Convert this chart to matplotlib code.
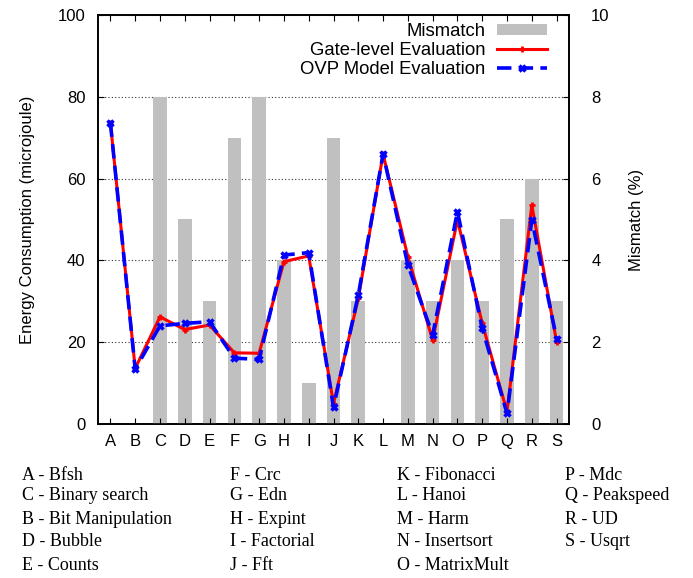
import numpy as np
import matplotlib
matplotlib.use('Agg')
import matplotlib.pyplot as plt
from matplotlib.patches import Patch
from matplotlib.lines import Line2D

plt.rcParams['font.family'] = ['Liberation Sans', 'DejaVu Sans']
plt.rcParams['font.size'] = 12

labels = ['A', 'B', 'C', 'D', 'E', 'F', 'G', 'H', 'I', 'J',
          'K', 'L', 'M', 'N', 'O', 'P', 'Q', 'R', 'S']
mismatch = [0, 0, 8, 5, 3, 7, 8, 4, 1, 7, 3, 0, 4, 3, 4, 3, 5, 6, 3]
gate = [73.7, 13.6, 26.2, 23.1, 24.2, 17.4, 17.3, 39.7, 41.1, 5.0,
        30.7, 66.0, 40.9, 20.5, 49.9, 24.6, 3.0, 53.5, 20.1]
ovp = [73.7, 13.4, 24.0, 24.6, 25.0, 16.1, 15.8, 41.3, 41.9, 4.1,
       31.5, 66.0, 38.9, 21.8, 51.9, 23.4, 2.6, 49.9, 20.9]

names = [['A - Bfsh', 'C - Binary search', 'B - Bit Manipulation', 'D - Bubble', 'E - Counts'],
         ['F - Crc', 'G - Edn', 'H - Expint', 'I - Factorial', 'J - Fft'],
         ['K - Fibonacci', 'L - Hanoi', 'M - Harm', 'N - Insertsort', 'O - MatrixMult'],
         ['P - Mdc', 'Q - Peakspeed', 'R - UD', 'S - Usqrt']]

x = np.arange(len(labels))

fig = plt.figure(figsize=(6.93, 5.78), dpi=100)
ax = fig.add_axes([98/693, 1 - 424/578, 471/693, 409/578])
ax2 = ax.twinx()

# bars on the right axis, behind the lines
ax2.bar(x, mismatch, width=0.55, color='#c0c0c0', zorder=3)
ax2.set_ylim(0, 10)
ax2.set_yticks([0, 2, 4, 6, 8, 10])
ax2.yaxis.grid(True, linestyle=(0, (1, 2)), color='#333333', linewidth=0.8, zorder=0)
ax2.set_axisbelow(True)
ax2.set_ylabel('Mismatch (%)', labelpad=14)

ax.set_zorder(ax2.get_zorder() + 1)
ax.patch.set_visible(False)
ax.plot(x, gate, color='red', linewidth=2.2, marker='+', markersize=5, markeredgewidth=2, zorder=4)
ax.plot(x, ovp, color='blue', linewidth=2.6, linestyle=(0, (4, 2)), marker='x', markersize=5,
        markeredgewidth=2.5, zorder=5)
ax.set_xlim(-0.5, len(labels) - 0.5)
ax.set_ylim(0, 100)
ax.set_yticks([0, 20, 40, 60, 80, 100])
ax.set_xticks(x)
ax.set_xticklabels(labels)
ax.set_ylabel('Energy Consumption (microjoule)', labelpad=16.5)

ax.tick_params(axis='both', direction='in', length=4, width=0.8, top=True)
ax.tick_params(axis='y', pad=9)
ax.tick_params(axis='x', pad=7)
ax2.tick_params(axis='y', direction='in', length=4, width=0.8, pad=16)
for a in (ax, ax2):
    for s in a.spines.values():
        s.set_linewidth(1.2)

handles = [Patch(facecolor='#c0c0c0', edgecolor='none'),
           Line2D([], [], color='red', linewidth=2.2, marker='+', markersize=5, markeredgewidth=2),
           Line2D([], [], color='blue', linewidth=2.6, linestyle=(0, (4, 2)), marker='x',
                  markersize=5, markeredgewidth=2.5)]
leg = ax.legend(handles, ['Mismatch', 'Gate-level Evaluation', 'OVP Model Evaluation'],
                loc='upper right', bbox_to_anchor=(1 - 22/471, 1 - 8/409), borderaxespad=0,
                frameon=False, markerfirst=False, handlelength=2.7, handletextpad=0.65,
                labelspacing=0.1, borderpad=0, handleheight=0.55, fontsize=13.3)

col_x = [22, 230, 397, 565]
row_y = [475, 496, 519, 541.5, 565]
for c, col in enumerate(names):
    for r, txt in enumerate(col):
        fig.text(col_x[c]/693, 1 - row_y[r]/578, txt, family=['Liberation Serif', 'DejaVu Serif'],
                 fontsize=13, ha='left', va='center')

fig.savefig('out.png', dpi=100)
